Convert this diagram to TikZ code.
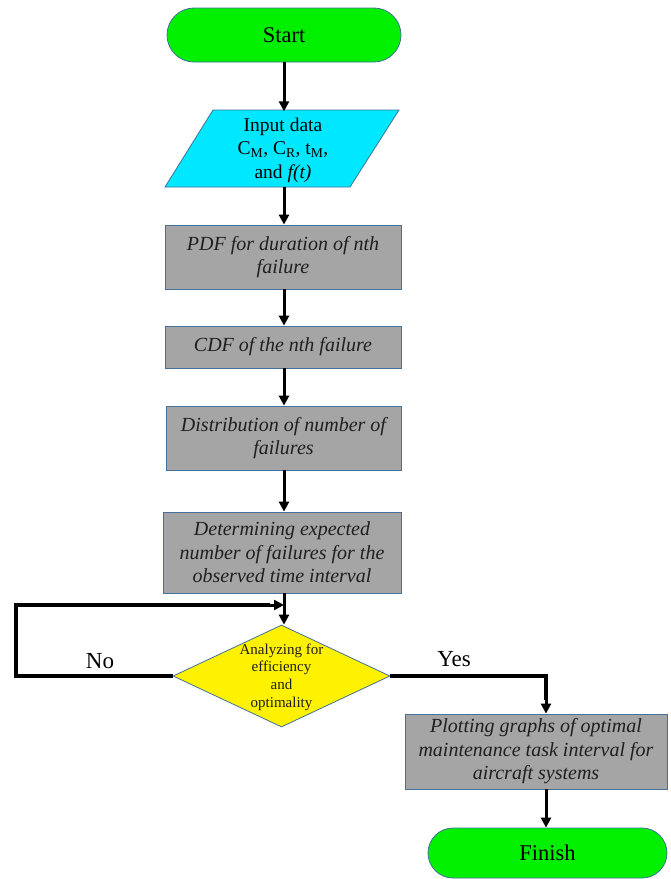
\documentclass[tikz,border=0pt]{standalone}
\usepackage{fontspec}
\setmainfont{Liberation Serif}
\usetikzlibrary{arrows.meta,shapes.geometric,shapes.misc}
\definecolor{bord}{HTML}{41719C}
\definecolor{termgreen}{HTML}{00F000}
\definecolor{inpcyan}{HTML}{00E8FF}
\definecolor{boxgray}{HTML}{A5A5A5}
\definecolor{dtext}{HTML}{1F1F1F}
\tikzset{
  term/.style={draw=bord, line width=0.8pt, fill=termgreen, rounded rectangle, inner sep=0pt,
    font=\fontsize{22.5}{26}\selectfont},
  procbox/.style={draw=bord, line width=0.8pt, fill=boxgray, inner sep=0pt, align=center,
    font=\fontsize{20}{23.5}\selectfont\itshape, text=dtext},
  flow/.style={line width=3pt, -{Triangle[length=10pt,width=10pt]}},
  plain/.style={line width=3.5pt},
  lbl/.style={font=\fontsize{23}{26}\selectfont}
}
\begin{document}
\begin{tikzpicture}[x=1pt,y=-1pt]
\useasboundingbox (0,0) rectangle (671,879);
% terminals
\node[term, minimum width=234, minimum height=54] (start) at (284,35) {Start};
% input parallelogram
\draw[draw=bord, line width=0.8pt, fill=inpcyan] (213,110) -- (399,110) -- (350,187) -- (165,187) -- cycle;
\node[align=center, inner sep=0pt, minimum height=77, font=\fontsize{19.5}{23.5}\selectfont] (inp) at (283,150)
  {Input data\\C\textsubscript{M}, C\textsubscript{R}, t\textsubscript{M},\\and \textit{f(t)}};
% process boxes
\node[procbox, minimum width=236, minimum height=64] (pdf) at (283,257) {PDF for duration of nth\\failure};
\node[procbox, minimum width=236, minimum height=42] (cdf) at (283,347) {CDF of the nth failure};
\node[procbox, minimum width=235, minimum height=64] (dist) at (283.5,438) {Distribution of number of\\failures};
\node[procbox, minimum width=238, minimum height=81] (det) at (282,552.5) {Determining expected\\number of failures for the\\observed time interval};
% decision
\node[diamond, draw=bord, line width=0.8pt, fill=yellow, minimum width=217, minimum height=102, inner sep=0pt] (dec) at (281.5,676) {};
\node[align=center, inner sep=0pt, text=dtext, font=\fontsize{15}{17.7}\selectfont] (dectext) at (281.5,677)
  {Analyzing for\\efficiency\\and\\optimality};
% plotting box
\node[procbox, minimum width=262, minimum height=75] (plot) at (536,751.5) {Plotting graphs of optimal\\maintenance task interval for\\aircraft systems};
\node[term, minimum width=239, minimum height=50] (fin) at (547.5,853) {Finish};
% connectors
\coordinate (merge) at (284,605);
\draw[flow] (start.south -| 284,0) -- (inp.north -| 284,0);
\draw[flow] (284,187) -- (pdf.north -| 284,0);
\draw[flow] (pdf.south -| 284,0) -- (cdf.north -| 284,0);
\draw[flow] (cdf.south -| 284,0) -- (dist.north -| 284,0);
\draw[flow] (dist.south -| 284,0) -- (det.north -| 284,0);
\draw[flow] (det.south -| 284,0) -- (dec.north -| 284,0);
\draw[plain, line join=miter] (dec.west) -- (16,676) -- (16,605) -- (270,605);
\draw[flow] (260,605) -- (merge);
\draw[plain, line join=miter] (dec.east) -- (546,676) -- (546,700);
\draw[flow] (546,690) -- (plot.north -| 546,0);
\draw[flow] (plot.south -| 546,0) -- (fin.north -| 546,0);
% labels
\node[lbl] (no) at (100,661) {No};
\node[lbl] (yes) at (454,659) {Yes};
\end{tikzpicture}
\end{document}
